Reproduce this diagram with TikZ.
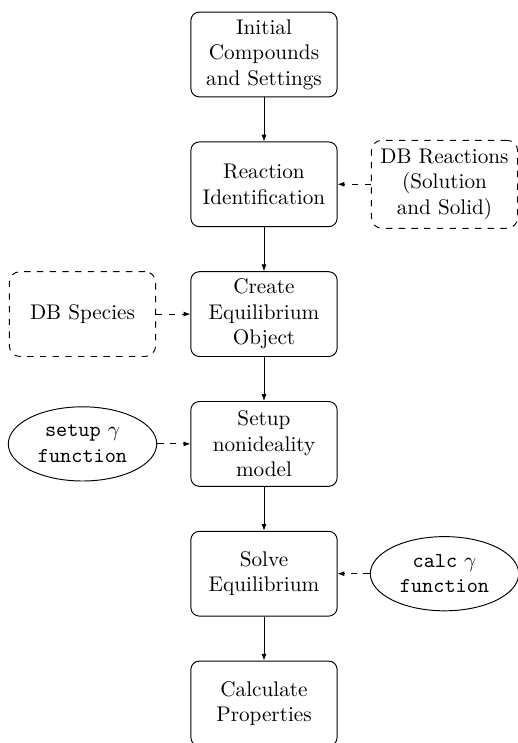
\documentclass[tikz,border=0pt]{standalone}
\usetikzlibrary{shapes.geometric,arrows.meta}
\begin{document}
\begin{tikzpicture}[x=0.4717pt,y=-0.4717pt,
  stepbox/.style={draw,rounded corners=4pt,align=center,minimum width=69pt,minimum height=40pt,inner sep=3pt,line width=0.45pt},
  dbbox/.style={draw,dashed,rounded corners=5pt,align=center,minimum width=69pt,minimum height=41.5pt,inner sep=3pt,line width=0.45pt},
  fnell/.style={draw,ellipse,align=center,minimum width=70pt,minimum height=35pt,inner sep=0pt,line width=0.45pt},
  flow/.style={-{Latex[length=3.2pt,width=2.4pt]},line width=0.4pt},
  feed/.style={-{Latex[length=3.2pt,width=2.4pt]},dashed,line width=0.4pt}]
\useasboundingbox (0,0) rectangle (517,743);
\node[stepbox] (init) at (264,54.5) {Initial\\Compounds\\and Settings};
\node[stepbox] (react) at (264,184.3) {Reaction\\Identification};
\node[stepbox] (create) at (264,314.1) {Create\\Equilibrium\\Object};
\node[stepbox] (setup) at (264,443.9) {Setup\\nonideality\\model};
\node[stepbox] (solve) at (264,573.7) {Solve\\Equilibrium};
\node[stepbox] (calc) at (264,703.5) {Calculate\\Properties};
\node[dbbox] (dbr) at (444.5,184.3) {DB Reactions\\(Solution\\and Solid)};
\node[dbbox,minimum height=40pt] (dbs) at (82.5,314.1) {DB Species};
\node[fnell] (setg) at (82.5,443.9) {\texttt{setup} $\gamma$\\\texttt{function}};
\node[fnell] (calcg) at (444.5,573.7) {\texttt{calc} $\gamma$\\\texttt{function}};
\draw[flow] (init) -- (react);
\draw[flow] (react) -- (create);
\draw[flow] (create) -- (setup);
\draw[flow] (setup) -- (solve);
\draw[flow] (solve) -- (calc);
\draw[feed] (dbr) -- (react);
\draw[feed] (dbs) -- (create);
\draw[feed] (setg) -- (setup);
\draw[feed] (calcg) -- (solve);
\end{tikzpicture}
\end{document}
